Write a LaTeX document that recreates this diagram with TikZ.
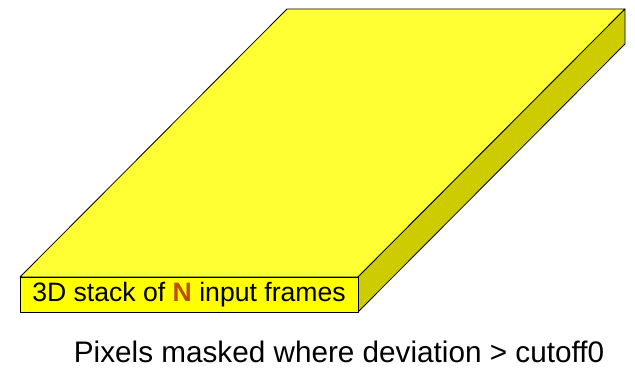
\documentclass[tikz,border=0pt]{standalone}
\usepackage{fontspec}
\setmainfont{Liberation Sans}
\usetikzlibrary{positioning,calc}
\definecolor{slabtop}{HTML}{FFFF33}
\definecolor{slabfront}{HTML}{FFFF00}
\definecolor{slabside}{HTML}{CCCC00}
\definecolor{countcol}{HTML}{C04C00}
\tikzset{
  face/.style={draw=black,line width=0.8pt,line join=round},
  lbl/.style={font=\fontsize{26.6}{30}\selectfont,inner sep=0pt},
  caption/.style={font=\fontsize{29.7}{33}\selectfont,inner sep=0pt}
}
\begin{document}
\begin{tikzpicture}[x=1pt,y=-1pt]
\useasboundingbox (0,0) rectangle (635,377);
% corners of the slab
\coordinate (fl) at (20,277);
\coordinate (fr) at (358,277);
\coordinate (bl) at (287,9);
\coordinate (br) at (625,9);
\coordinate (t) at (0,35);
% faces
\draw[face,fill=slabtop] (fl) -- (bl) -- (br) -- (fr) -- cycle;
\draw[face,fill=slabside] (fr) -- (br) -- ($(br)+(t)$) -- ($(fr)+(t)$) -- cycle;
\draw[face,fill=slabfront] (fl) rectangle ($(fr)+(t)$);
% labels
\node[lbl] (stack) at ($(fl)!0.5!(fr)+(0,17.5)$) {3D stack of \textcolor{countcol}{\textbf{N}} input frames};
\node[caption] (mask) at (339,352) {Pixels masked where deviation > cutoff0};
\end{tikzpicture}
\end{document}
